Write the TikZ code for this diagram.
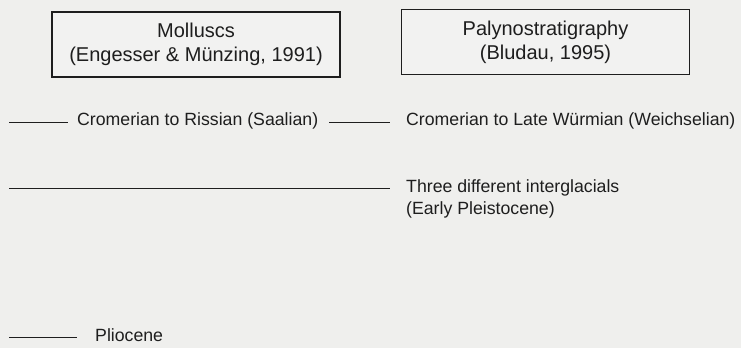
\documentclass[tikz,border=0pt]{standalone}
\usepackage{fontspec}
\setmainfont{Liberation Sans}
\definecolor{bg}{RGB}{239,239,237}
\definecolor{boxfill}{RGB}{242,242,241}
\definecolor{ink}{RGB}{30,30,30}
\begin{document}
\begin{tikzpicture}[x=1pt,y=-1pt,
  titlebox/.style={draw=ink,line width=1.2pt,fill=boxfill,minimum width=288pt,minimum height=65pt,
    align=center,inner sep=0pt,font=\fontsize{20}{24}\selectfont,text=ink},
  label/.style={inner sep=0pt,font=\fontsize{17.7}{21.5}\selectfont,text=ink},
  tick/.style={draw=ink,line width=1.3pt}]
\fill[bg] (0,0) rectangle (741,348);
\useasboundingbox (0,0) rectangle (741,348);

\node[titlebox] (mol) at (196,44.5) {Molluscs\\(Engesser \& Münzing, 1991)};
\node[titlebox] (pal) at (545.5,42.3) {Palynostratigraphy\\(Bludau, 1995)};

% row 1
\coordinate (r1a) at (9,122.5);
\coordinate (r1b) at (390,122.5);
\node[label,anchor=mid west] (crRiss) at (77,122.5) {Cromerian to Rissian (Saalian)};
\node[label,anchor=mid west] (crWurm) at (406,122.5) {Cromerian to Late Würmian (Weichselian)};
\draw[tick] (r1a) -- ([xshift=-9pt]crRiss.mid west);
\draw[tick] ([xshift=11pt]crRiss.mid east) -- (r1b);

% row 2
\coordinate (r2a) at (9,188.3);
\coordinate (r2b) at (390,188.3);
\draw[tick] (r2a) -- (r2b);
\node[label,anchor=north west,align=left] (three) at (406,179.5) {Three different interglacials\\(Early Pleistocene)};

% row 3
\coordinate (r3a) at (9,337.5);
\coordinate (r3b) at (77,337.5);
\draw[tick] (r3a) -- (r3b);
\node[label,anchor=mid west] (plio) at (95,338.5) {Pliocene};
\end{tikzpicture}
\end{document}
